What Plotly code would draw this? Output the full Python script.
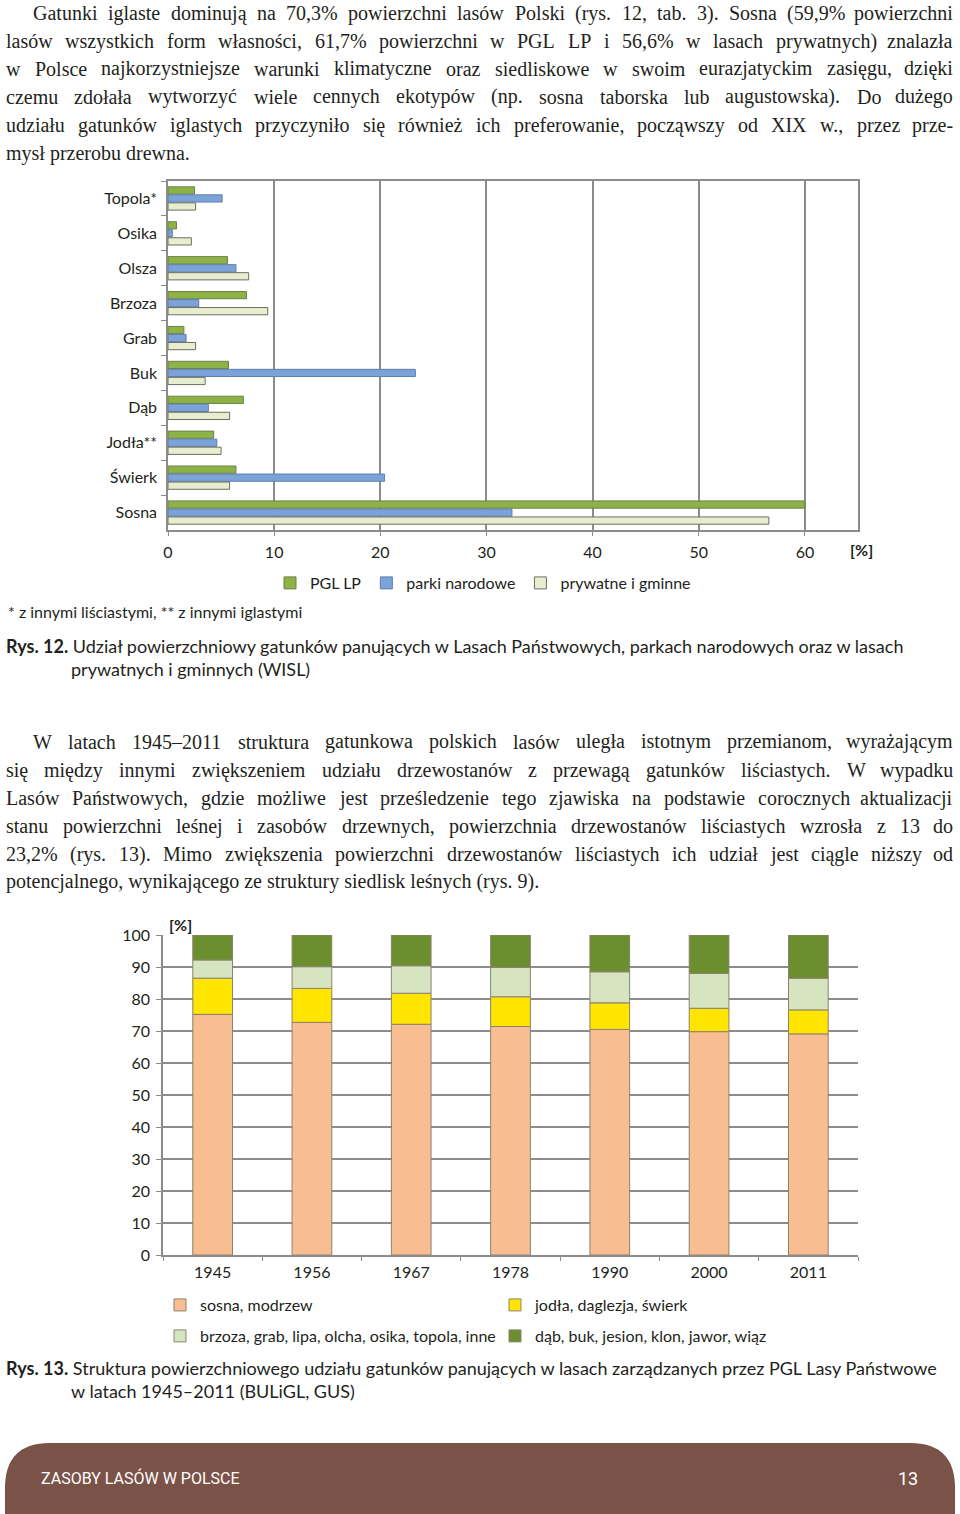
import plotly.graph_objects as go
import numpy as np

W, H = 960, 1514
OFF = 0  # body margin removed via post_script
def PX(x): return (x - OFF) / W
def PY(y): return 1 - (y - OFF) / H

# ---------------- Data: Rys. 12 ----------------
species = ["Topola*", "Osika", "Olsza", "Brzoza", "Grab", "Buk", "Dąb", "Jodła**", "Świerk", "Sosna"]
pgl_lp = [2.5, 0.8, 5.6, 7.4, 1.5, 5.7, 7.1, 4.3, 6.4, 60.0]
parki = [5.1, 0.4, 6.4, 2.9, 1.7, 23.3, 3.8, 4.6, 20.4, 32.4]
prywatne = [2.6, 2.2, 7.6, 9.4, 2.6, 3.5, 5.8, 5.0, 5.8, 56.6]
ticks1 = [0, 10, 20, 30, 40, 50, 60]

# ---------------- Data: Rys. 13 ----------------
years = ["1945", "1956", "1967", "1978", "1990", "2000", "2011"]
sosna_modrzew = [75.2, 72.7, 72.1, 71.4, 70.5, 69.8, 69.1]
jodla_swierk = [11.3, 10.6, 9.7, 9.3, 8.3, 7.3, 7.5]
brzoza_inne = [5.7, 6.8, 8.6, 9.2, 9.7, 10.9, 9.9]
dab_buk = [7.8, 9.9, 9.6, 10.1, 11.5, 12.0, 13.5]
ticks2 = list(range(0, 101, 10))

SANS = "Lato"
SERIF = "Liberation Serif"
TXT = "#231f20"
CF = 16  # chart font size

fig = go.Figure()

c1 = [("PGL LP", pgl_lp, "#8db347", "#6f7f4c"),
      ("parki narodowe", parki, "#7ba3da", "#5f7ea8"),
      ("prywatne i gminne", prywatne, "#e7eecf", "#6e6e60")]
for name, vals, col, lc in c1:
    fig.add_trace(go.Bar(y=species, x=vals, name=name, orientation="h",
                         marker=dict(color=col, line=dict(color=lc, width=1)),
                         xaxis="x", yaxis="y", legend="legend"))

c2 = [("sosna, modrzew", sosna_modrzew, "#f9bd92", "legend2"),
      ("jodła, daglezja, świerk", jodla_swierk, "#ffe500", "legend2"),
      ("brzoza, grab, lipa, olcha, osika, topola, inne", brzoza_inne, "#d6e5c0", "legend3"),
      ("dąb, buk, jesion, klon, jawor, wiąz", dab_buk, "#6b8f2e", "legend3")]
base = np.zeros(len(years))
for name, vals, col, lg in c2:
    fig.add_trace(go.Bar(x=years, y=vals, base=base.copy(), name=name,
                         width=0.4, offset=-0.2, offsetgroup="s",
                         marker=dict(color=col, line=dict(color="#8c8270", width=1)),
                         xaxis="x2", yaxis="y2", legend=lg))
    base = base + np.array(vals)

grid = "#8c8c8c"
lfont = dict(size=CF, family=SANS, color=TXT)
fig.update_layout(
    width=W, height=H, autosize=False,
    margin=dict(l=0, r=0, t=0, b=0, autoexpand=False),
    paper_bgcolor="white", plot_bgcolor="white",
    barmode="group", bargap=0.31, bargroupgap=0.1,
    font=dict(family=SANS, size=CF, color=TXT),
    xaxis=dict(domain=[PX(168), PX(858)], anchor="y", range=[0, 65],
               tickvals=ticks1, showgrid=True, gridcolor=grid, gridwidth=1.5,
               showline=True, linecolor=grid, linewidth=1.5, mirror=True,
               ticks="outside", ticklen=4, tickcolor=grid, zeroline=False,
               ticklabelstandoff=3, tickfont=lfont),
    yaxis=dict(domain=[PY(530), PY(181)], anchor="x", autorange="reversed",
               type="category", showline=True, linecolor=grid, linewidth=1.5,
               mirror=True, ticks="outside", ticklen=5, tickcolor=grid,
               tickson="boundaries", showgrid=False, ticklabelstandoff=6,
               tickfont=lfont),
    xaxis2=dict(domain=[PX(163), PX(858)], anchor="y2", type="category",
                range=[-0.5, 6.5], showline=True, linecolor=grid, linewidth=1.5,
                ticks="outside", ticklen=4, tickcolor=grid, tickson="boundaries",
                showgrid=False, ticklabelstandoff=2, tickfont=lfont),
    yaxis2=dict(domain=[PY(1255), PY(935)], anchor="x2", range=[0, 100],
                tickvals=ticks2, showgrid=True, gridcolor=grid, gridwidth=2,
                showline=True, linecolor=grid, linewidth=1.5, ticks="outside",
                ticklen=5, tickcolor=grid, zeroline=False, ticklabelstandoff=3,
                tickfont=lfont),
    legend=dict(orientation="h", x=PX(270), y=PY(583), xanchor="left", yanchor="middle",
                font=lfont, bgcolor="rgba(0,0,0,0)"),
    legend2=dict(orientation="h", x=PX(160), y=PY(1305), xanchor="left", yanchor="middle",
                 entrywidth=290, entrywidthmode="pixels", font=lfont, bgcolor="rgba(0,0,0,0)"),
    legend3=dict(orientation="h", x=PX(160), y=PY(1336), xanchor="left", yanchor="middle",
                 entrywidth=290, entrywidthmode="pixels", font=lfont, bgcolor="rgba(0,0,0,0)"),
    showlegend=True,
)

anns = []
def ann(text, x, y, size, family, xanchor="left", color=TXT):
    anns.append(dict(text=text, x=PX(x), y=PY(y), xref="paper", yref="paper",
                     xanchor=xanchor, yanchor="middle", showarrow=False, borderpad=0,
                     font=dict(size=size, family=family, color=color)))

# approximate Times/Liberation Serif advance widths (per 1000 em) for justification
TW = dict(a=444, b=500, c=444, d=500, e=444, f=333, g=500, h=500, i=278, j=278, k=500,
          l=278, m=778, n=500, o=500, p=500, q=500, r=333, s=389, t=278, u=500, v=500,
          w=722, x=500, y=500, z=444, A=722, B=667, C=667, D=722, E=611, F=556, G=722,
          H=722, I=333, J=389, K=722, L=611, M=889, N=722, O=722, P=556, Q=722, R=667,
          S=556, T=611, U=722, V=722, W=944, X=722, Y=722, Z=611)
TW.update({",": 250, ".": 250, "(": 333, ")": 333, "%": 833, "-": 333, "–": 500,
           ":": 278, ";": 278, "ł": 278, "ą": 444, "ę": 444, "ó": 500, "ś": 389,
           "ć": 444, "ń": 500, "ź": 444, "ż": 444, "Ś": 556, "Ł": 611, "Ż": 611})
for dgt in "0123456789":
    TW[dgt] = 500
def tw(word, size):
    return sum(TW.get(ch, 500) for ch in word) * size / 1000.0

def justified(line, x0, x1, y, size, justify=True):
    words = line.split(" ")
    if not justify:
        ann(line, x0, y, size, SERIF)
        return
    widths = [tw(w, size) for w in words]
    gap = (x1 - x0 - sum(widths)) / (len(words) - 1)
    x = x0
    for i, (w, wd) in enumerate(zip(words, widths)):
        if i == len(words) - 1:
            ann(w, x1, y, size, SERIF, xanchor="right")
        else:
            ann(w, x, y, size, SERIF)
        x += wd + gap

p1 = ["Gatunki iglaste dominują na 70,3% powierzchni lasów Polski (rys. 12, tab. 3). Sosna (59,9% powierzchni",
      "lasów wszystkich form własności, 61,7% powierzchni w PGL LP i 56,6% w lasach prywatnych) znalazła",
      "w Polsce najkorzystniejsze warunki klimatyczne oraz siedliskowe w swoim eurazjatyckim zasięgu, dzięki",
      "czemu zdołała wytworzyć wiele cennych ekotypów (np. sosna taborska lub augustowska). Do dużego",
      "udziału gatunków iglastych przyczyniło się również ich preferowanie, począwszy od XIX w., przez prze-",
      "mysł przerobu drewna."]
p2 = ["W latach 1945–2011 struktura gatunkowa polskich lasów uległa istotnym przemianom, wyrażającym",
      "się między innymi zwiększeniem udziału drzewostanów z przewagą gatunków liściastych. W wypadku",
      "Lasów Państwowych, gdzie możliwe jest prześledzenie tego zjawiska na podstawie corocznych aktualizacji",
      "stanu powierzchni leśnej i zasobów drzewnych, powierzchnia drzewostanów liściastych wzrosła z 13 do",
      "23,2% (rys. 13). Mimo zwiększenia powierzchni drzewostanów liściastych ich udział jest ciągle niższy od",
      "potencjalnego, wynikającego ze struktury siedlisk leśnych (rys. 9)."]
for par, y0 in ((p1, 13), (p2, 742)):
    for i, t in enumerate(par):
        justified(t, 32 if i == 0 else 5, 954, y0 + 28 * i, 20, justify=(i < len(par) - 1))

ann("<b>[%]</b>", 849, 549, CF, SANS)
ann("* z innymi liściastymi, ** z innymi iglastymi", 7, 612, CF, SANS)
ann("<b>Rys. 12.</b> Udział powierzchniowy gatunków panujących w Lasach Państwowych, parkach narodowych oraz w lasach",
    5, 646, 18, SANS)
ann("prywatnych i gminnych (WISL)", 70, 669, 18, SANS)
ann("<b>[%]</b>", 168, 924, CF, SANS)
ann("<b>Rys. 13.</b> Struktura powierzchniowego udziału gatunków panujących w lasach zarządzanych przez PGL Lasy Państwowe",
    5, 1368, 18, SANS)
ann("w latach 1945–2011 (BULiGL, GUS)", 70, 1391, 18, SANS)
ann("ZASOBY LASÓW W POLSCE", 40, 1478, 16, "Roboto", color="white")
ann("13", 908, 1478, 18, "Roboto", xanchor="center", color="white")

x0, x1, yt, yb, r = 5, 955, 1443, 1540, 45
path = (f"M {PX(x0)},{PY(yb)} L {PX(x0)},{PY(yt + r)} Q {PX(x0)},{PY(yt)} {PX(x0 + r)},{PY(yt)} "
        f"L {PX(x1 - r)},{PY(yt)} Q {PX(x1)},{PY(yt)} {PX(x1)},{PY(yt + r)} L {PX(x1)},{PY(yb)} Z")
fig.update_layout(annotations=anns,
                  shapes=[dict(type="path", path=path, xref="paper", yref="paper",
                               fillcolor="#7b5248", line=dict(width=0), layer="below")])

fig.write_html("out.html", config={"displayModeBar": False},
               post_script="document.body.style.margin='0';document.body.style.overflow='hidden';")
